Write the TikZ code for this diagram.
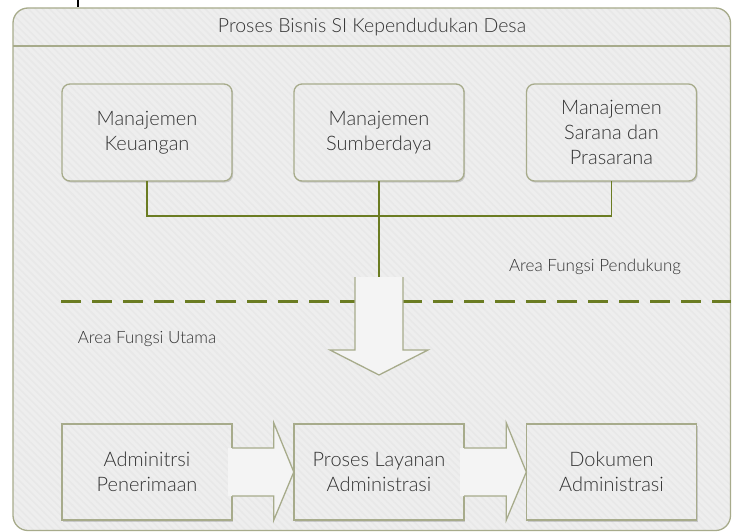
\documentclass[tikz,border=0pt]{standalone}
\usepackage{fontspec}
\setmainfont{Lato}[UprightFont={* Light}]
\usetikzlibrary{shadows,patterns.meta,calc}

\definecolor{framecol}{HTML}{A7AB8B}
\definecolor{paper}{HTML}{EEEEEE}
\definecolor{stripe}{HTML}{E8E8E8}
\definecolor{olive}{HTML}{6B7C22}
\definecolor{ink}{HTML}{333333}

\tikzset{
  % light fill, faint diagonal stripes, then the outline on top
  panel/.style={fill=paper,
    postaction={pattern={Lines[angle=-45,distance=5pt,line width=1.6pt]},pattern color=stripe},
    postaction={draw=framecol,line width=1.3pt}},
  softshadow/.style={drop shadow={shadow xshift=1.2pt,shadow yshift=-1.6pt,opacity=0.22,fill=black!70}},
  boxtext/.style={align=center,text=ink,font=\fontsize{20}{25}\selectfont},
  roundbox/.style={panel,rounded corners=8pt,minimum width=170pt,minimum height=97pt,boxtext,softshadow},
  squarebox/.style={panel,minimum width=170pt,minimum height=96pt,boxtext,softshadow},
  link/.style={draw=olive,line width=1.6pt},
  divider/.style={draw=olive,line width=3pt,dash pattern=on 20pt off 11pt},
  blockarrow/.style={fill=white!35!paper},
  blockedge/.style={draw=framecol,line width=1.3pt,line join=miter},
  arealabel/.style={text=ink,font=\fontsize{17}{20}\selectfont},
}

\begin{document}
\begin{tikzpicture}[x=1pt,y=-1pt]
\useasboundingbox (0,0) rectangle (738,532);

% outer container with its title band
\path[panel,rounded corners=15pt] (13,8) rectangle (730.5,530.5);
\draw[draw=framecol,line width=1.3pt] (13,46) -- (730.5,46);
\node[text=ink,font=\fontsize{19.5}{22}\selectfont] (title) at (372,27) {Proses Bisnis SI Kependudukan Desa};
\draw[line width=1.5pt] (78,0) -- (78,7);

% supporting functions
\node[roundbox] (keu) at (147,132.5) {Manajemen\\Keuangan};
\node[roundbox] (sdm) at (379,132.5) {Manajemen\\Sumberdaya};
\node[roundbox] (sar) at (611.5,132.5) {Manajemen\\Sarana dan\\Prasarana};

\coordinate (join) at (379,216);
\coordinate (feed) at (379,278);
\draw[link] (keu.south) |- (join) -| (sar.south);
\draw[link] (sdm.south) -- (feed);

% boundary between the two areas
\coordinate (dl) at (61,301);
\coordinate (dr) at (731,301);
\draw[divider] (dl) -- (dr);

\node[arealabel] (pend) at (595,267) {Area Fungsi Pendukung};
\node[arealabel] (utama) at (147,339) {Area Fungsi Utama};

% downward block arrow
\fill[blockarrow] (355,277) -- (403,277) -- (403,350) -- (428,350) -- (379,375) -- (330,350) -- (355,350) -- cycle;
\draw[blockedge] (355,277) -- (355,350) -- (330,350) -- (379,375) -- (428,350) -- (403,350) -- (403,277);

% main functions
\node[squarebox] (terima) at (147,472) {Adminitrsi\\Penerimaan};
\node[squarebox] (layan) at (379,472) {Proses Layanan\\Administrasi};
\node[squarebox] (dok) at (611.5,472) {Dokumen\\Administrasi};

% block arrows between the main functions
\foreach \a/\b in {terima/layan,layan/dok}{
  \path (\a.east) coordinate (s) (\b.west) coordinate (t);
  \fill[blockarrow] ($(s)+(-4,-24)$) -- ($(t)+(-20,-24)$) -- ($(t)+(-20,-49)$) -- (t)
      -- ($(t)+(-20,48)$) -- ($(t)+(-20,24)$) -- ($(s)+(-4,24)$) -- cycle;
  \draw[blockedge] ($(s)+(0,-24)$) -- ($(t)+(-20,-24)$) -- ($(t)+(-20,-49)$) -- (t)
      -- ($(t)+(-20,48)$) -- ($(t)+(-20,24)$) -- ($(s)+(0,24)$);
}
\end{tikzpicture}
\end{document}
